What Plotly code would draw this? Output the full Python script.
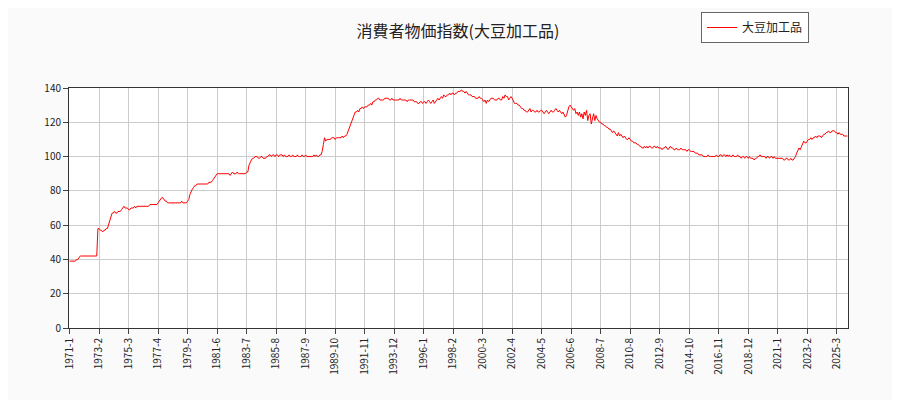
import plotly.graph_objects as go

start_year = 1971
v1971 = [39,39,39,39,39,39,40,40,41,42,42,42]
v1972 = [42,42,42,42,42,42,42,42,42,42,42,42]
v1973 = [58,58,57,57,56,57,57,58,58,60,63,65]
v1974 = [67,67,68,67,67,68,68,68,69,70,71,70]
v1975 = [70,70,69,69,70,70,70,71,70,71,71,71]
v1976 = [71,71,71,71,71,71,71,71,72,72,72,72]
v1977 = [72,72,72,73,74,75,76,76,75,74,74,73]
v1978 = [73,73,73,73,73,73,73,73,73,73,73,74]
v1979 = [73,73,73,73,74,75,78,80,81,82,83,83]
v1980 = [84,84,84,84,84,84,84,84,84,84,85,85]
v1981 = [85,86,87,88,89,90,90,90,90,90,90,90]
v1982 = [90,90,90,90,89,90,91,90,90,90,91,90]
v1983 = [90,90,90,90,90,90,91,91,95,97,98,99]
v1984 = [99,100,100,100,99,99,100,100,99,99,99,100]
v1985 = [100,101,101,100,101,101,100,101,101,100,101,101]
v1986 = [101,100,101,100,100,100,101,100,100,101,100,100]
v1987 = [100,101,100,100,100,101,100,100,101,100,100,100]
v1988 = [100,100,100,101,100,101,100,100,101,101,103,107]
v1989 = [111,109,110,110,110,110,111,111,111,110,111,111]
v1990 = [111,111,111,112,111,112,112,113,115,117,119,121]
v1991 = [122,124,126,126,127,126,128,128,129,128,129,129]
v1992 = [129,130,130,131,130,132,132,133,133,134,134,133]
v1993 = [133,133,133,134,134,134,134,133,133,134,133,133]
v1994 = [133,133,133,133,134,133,133,133,133,133,132,133]
v1995 = [133,133,133,133,132,132,132,131,131,132,132,131]
v1996 = [132,132,131,132,133,132,131,132,133,131,132,133]
v1997 = [134,133,134,135,134,136,135,135,136,136,137,136]
v1998 = [137,137,136,137,137,138,138,138,139,138,138,137]
v1999 = [138,137,136,136,136,135,135,135,134,134,134,135]
v2000 = [134,134,133,132,133,131,133,132,133,134,134,134]
v2001 = [133,133,133,134,134,133,133,135,134,136,135,135]
v2002 = [133,134,135,134,132,131,131,131,130,130,129,128]
v2003 = [128,127,127,126,126,127,128,126,127,127,126,126]
v2004 = [127,126,126,127,127,126,125,126,127,126,125,126]
v2005 = [127,126,126,127,128,127,126,127,126,125,126,124]
v2006 = [123,124,127,129,130,129,128,127,128,125,126,124]
v2007 = [126,123,125,122,126,124,127,121,124,125,119,123]
v2008 = [125,121,124,122,121,120,120,119,119,118,118,117]
v2009 = [117,116,116,115,114,115,114,113,112,114,112,113]
v2010 = [112,111,112,111,110,110,111,110,109,109,108,108]
v2011 = [108,107,107,106,106,105,105,106,105,106,105,106]
v2012 = [106,105,105,106,106,105,106,105,105,105,104,105]
v2013 = [105,106,105,104,105,106,105,105,104,104,105,104]
v2014 = [104,104,105,104,104,104,104,103,104,104,103,103]
v2015 = [103,103,102,102,102,101,101,101,101,100,100,100]
v2016 = [100,101,100,100,100,100,100,100,101,100,100,101]
v2017 = [101,100,101,101,100,101,100,101,100,100,101,100]
v2018 = [100,100,101,100,100,99,100,100,99,100,100,99]
v2019 = [100,99,99,99,98,99,99,100,100,101,100,100]
v2020 = [100,100,99,100,100,99,100,100,99,100,99,99]
v2021 = [99,99,99,99,99,98,98,99,99,98,98,99]
v2022 = [98,98,99,100,102,104,105,104,106,108,109,108]
v2023 = [108,109,110,110,111,110,111,111,112,111,112,112]
v2024 = [112,111,112,113,113,114,114,115,114,114,115,115]
v2025 = [115,114,114,113,114,113,113,113,112,112,112,112]

years = [v1971,v1972,v1973,v1974,v1975,v1976,v1977,v1978,v1979,v1980,v1981,v1982,
         v1983,v1984,v1985,v1986,v1987,v1988,v1989,v1990,v1991,v1992,v1993,v1994,
         v1995,v1996,v1997,v1998,v1999,v2000,v2001,v2002,v2003,v2004,v2005,v2006,
         v2007,v2008,v2009,v2010,v2011,v2012,v2013,v2014,v2015,v2016,v2017,v2018,
         v2019,v2020,v2021,v2022,v2023,v2024,v2025]
labels, values = [], []
for i, yv in enumerate(years):
    for m, v in enumerate(yv):
        labels.append(f"{start_year+i}-{m+1}")
        values.append(v)

tick_labels = labels[::25]

fig = go.Figure(go.Scatter(x=labels, y=values, mode="lines", name="大豆加工品",
                           line=dict(color="red", width=1)))
fig.update_layout(
    width=900, height=400, paper_bgcolor="#fafafa", plot_bgcolor="white",
    margin=dict(l=61, r=60, t=80, b=80, autoexpand=False),
    title=dict(text="消費者物価指数(大豆加工品)", x=0.5, y=0.955, xanchor="center",
               font=dict(size=16, color="#222")),
    font=dict(family="Noto Sans CJK JP", size=10, color="#222"),
    showlegend=True,
    legend=dict(x=0.95, y=0.99, xref="paper", yref="container", xanchor="right", yanchor="top",
                bgcolor="white", bordercolor="#666", borderwidth=1, font=dict(size=12)),
)
fig.update_xaxes(type="category", tickmode="array", tickvals=tick_labels, ticktext=tick_labels,
                 tickangle=-90, showgrid=True, gridcolor="#ccc", showline=True, linecolor="#333",
                 mirror=True, ticks="outside", automargin=False,
                 range=[-0.5, len(labels)-0.5], tickfont=dict(size=10))
fig.update_yaxes(range=[0, 140], dtick=20, showgrid=True, gridcolor="#ccc", showline=True,
                 linecolor="#333", mirror=True, ticks="outside", automargin=False,
                 tickfont=dict(size=10))
fig.write_html("out.html")
